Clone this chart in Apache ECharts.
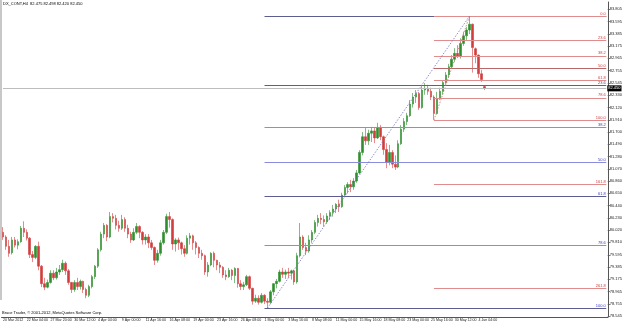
<!DOCTYPE html>
<html>
<head>
<meta charset="utf-8">
<script src="https://cdn.jsdelivr.net/npm/echarts@6/dist/echarts.min.js"></script>
<style>
  html, body { margin: 0; padding: 0; background: #fff; }
  #chart { width: 625px; height: 324px; }
</style>
</head>
<body>
<div id="chart"></div>
<script>
// DX_CONT H4 bars (each entry = one 3px column)
var opens = [79.98,79.90,79.74,79.63,79.85,79.76,79.82,80.05,79.98,79.88,79.60,79.55,79.74,79.40,79.10,79.04,79.12,79.28,79.20,79.30,
  79.34,79.45,79.32,79.12,79.00,79.12,79.05,79.14,79.00,78.90,79.05,79.22,79.40,79.68,79.95,80.10,79.90,80.25,80.22,80.10,
  80.05,80.20,80.05,79.95,79.85,79.98,80.08,79.98,79.85,79.90,79.80,79.72,79.50,79.62,79.80,79.98,80.25,80.20,79.78,79.85,
  79.80,79.70,79.62,79.88,79.92,79.80,79.72,79.62,79.58,79.30,79.42,79.62,79.50,79.42,79.38,79.25,79.22,79.33,79.24,79.36,
  79.10,79.05,79.08,79.22,79.02,78.80,78.85,78.78,78.90,78.80,78.78,78.96,79.10,79.14,79.30,79.26,79.30,79.28,79.32,79.13,
  79.58,79.90,79.72,79.66,79.85,79.98,80.15,80.22,80.20,80.16,80.26,80.32,80.38,80.46,80.42,80.62,80.75,80.80,80.76,80.86,
  81.00,81.35,81.62,81.55,81.68,81.72,81.60,81.78,81.62,81.40,81.18,81.35,81.15,81.10,81.50,81.75,81.88,81.98,82.18,82.30,
  82.36,82.12,82.42,82.45,82.40,82.30,82.02,82.28,82.40,82.55,82.68,82.82,82.95,83.05,83.00,83.22,83.35,83.45,83.55,83.13,
  83.02,82.70,82.48];
var closes = [79.90,79.74,79.62,79.85,79.76,79.82,80.05,79.98,79.88,79.60,79.55,79.74,79.40,79.10,79.04,79.12,79.28,79.20,79.30,79.34,
  79.45,79.32,79.12,79.00,79.12,79.05,79.14,79.00,78.90,79.05,79.22,79.40,79.68,79.95,80.10,79.90,80.25,80.22,80.10,80.05,
  80.20,80.05,79.95,79.85,79.98,80.08,79.98,79.85,79.90,79.80,79.72,79.50,79.62,79.80,79.98,80.25,80.20,79.78,79.85,79.80,
  79.70,79.62,79.88,79.92,79.80,79.72,79.62,79.58,79.30,79.42,79.62,79.50,79.42,79.38,79.25,79.22,79.33,79.24,79.36,79.10,
  79.05,79.08,79.22,79.02,78.80,78.85,78.78,78.90,78.80,78.78,78.96,79.10,79.14,79.30,79.26,79.30,79.28,79.32,79.13,79.58,
  79.90,79.72,79.66,79.85,79.98,80.15,80.22,80.20,80.16,80.26,80.32,80.38,80.46,80.42,80.62,80.75,80.80,80.76,80.86,81.00,
  81.35,81.62,81.55,81.68,81.72,81.60,81.78,81.62,81.40,81.18,81.35,81.15,81.10,81.50,81.75,81.88,81.98,82.18,82.30,82.36,
  82.12,82.42,82.45,82.40,82.30,82.02,82.28,82.40,82.55,82.68,82.82,82.95,83.05,83.00,83.22,83.35,83.45,83.55,83.15,83.02,
  82.70,82.60,82.45];
var lows = [79.85,79.68,79.56,79.60,79.72,79.69,79.80,79.90,79.84,79.54,79.47,79.52,79.33,79.04,78.99,79.02,79.10,79.16,79.17,79.25,
  79.30,79.25,79.08,78.94,78.96,78.99,79.00,78.94,78.85,78.87,79.02,79.18,79.37,79.65,79.88,79.83,79.88,80.15,80.03,79.99,
  80.02,79.99,79.88,79.80,79.83,79.95,79.88,79.77,79.77,79.71,79.68,79.42,79.46,79.58,79.77,79.95,80.06,79.68,79.65,79.68,
  79.60,79.56,79.60,79.77,79.68,79.60,79.54,79.51,79.25,79.22,79.40,79.38,79.33,79.28,79.20,79.16,79.20,79.16,79.11,79.03,
  78.99,78.99,79.06,78.99,78.74,78.77,78.74,78.76,78.75,78.68,78.75,78.90,79.02,79.12,79.20,79.18,79.20,79.17,79.08,79.10,
  79.55,79.68,79.59,79.63,79.80,79.95,80.08,80.12,80.08,80.13,80.19,80.25,80.31,80.33,80.40,80.58,80.65,80.67,80.71,80.83,
  80.98,81.30,81.48,81.48,81.53,81.51,81.58,81.56,81.31,81.08,81.13,81.08,81.05,81.08,81.48,81.70,81.82,81.96,82.12,82.20,
  82.08,82.10,82.34,82.34,82.25,81.91,82.00,82.25,82.34,82.51,82.63,82.80,82.90,82.97,82.96,83.18,83.28,83.38,82.72,82.88,
  82.63,82.56,82.42];
var highs = [80.07,79.93,79.85,79.90,79.90,79.86,80.09,80.17,80.03,79.90,79.66,79.76,79.82,79.42,79.20,79.17,79.33,79.33,79.37,79.42,
  79.51,79.48,79.35,79.13,79.16,79.20,79.17,79.15,79.03,79.08,79.25,79.42,79.71,79.99,80.14,80.12,80.33,80.31,80.28,80.18,
  80.28,80.24,80.11,79.99,80.05,80.14,80.10,80.00,79.95,79.95,79.85,79.74,79.68,79.85,80.02,80.30,80.33,80.22,79.88,79.89,
  79.82,79.76,79.93,79.97,79.94,79.83,79.74,79.68,79.60,79.47,79.64,79.65,79.51,79.47,79.40,79.33,79.37,79.35,79.38,79.37,
  79.16,79.13,79.25,79.24,79.03,78.91,78.90,78.94,78.92,78.85,78.99,79.11,79.18,79.34,79.37,79.34,79.37,79.34,79.34,79.63,
  80.14,79.93,79.80,79.93,80.02,80.19,80.28,80.31,80.27,80.31,80.36,80.45,80.48,80.54,80.66,80.79,80.84,80.88,80.91,81.05,
  81.39,81.70,81.77,81.74,81.79,81.77,81.86,81.82,81.64,81.51,81.48,81.39,81.30,81.56,81.82,81.94,82.03,82.25,82.37,82.42,
  82.39,82.51,82.54,82.51,82.46,82.33,82.39,82.46,82.59,82.73,82.87,83.02,83.14,83.19,83.31,83.42,83.50,83.69,83.56,83.15,
  83.03,82.77,82.49];

// one x label every 8 columns
var tickLabels = ['20 Mar 2012','22 Mar 04:00','27 Mar 20:00','30 Mar 12:00','4 Apr 04:00','9 Apr 00:00','11 Apr 16:00',
  '16 Apr 08:00','19 Apr 00:00','23 Apr 16:00','26 Apr 08:00','1 May 00:00','3 May 16:00','8 May 08:00','11 May 00:00',
  '15 May 16:00','18 May 08:00','23 May 00:00','25 May 16:00','30 May 12:00','4 Jun 04:00'];
var yTickVals = [78.545,78.755,78.965,79.175,79.385,79.595,79.810,80.020,80.230,80.440,80.650,80.860,81.070,81.280,
  81.490,81.700,81.910,82.120,82.330,82.545,82.755,82.965,83.175,83.385,83.595,83.805];

// fibonacci tools: [price, column] anchors
var blueFibLevels = [0, 23.6, 38.2, 50, 61.8, 78.6, 100];
var blueLow = [78.68, 89], blueHigh = [83.69, 157];
var redFibLevels = [0, 23.6, 38.2, 50, 61.8, 78.6, 100, 161.8, 261.8];
var redLow = [81.905, 145], redHigh = [83.69, 157];
var lastPrice = 82.45;

var nCols = 204;
var cats = [];
for (var i = 0; i < nCols; i++) cats.push(String(i));
var ohlc = opens.map(function (o, i) { return [o, closes[i], lows[i], highs[i]]; });

var font = 'Liberation Sans';
var fs = 4;
var lines = [];
function fmt(l) { return l.toFixed(1); }
blueFibLevels.forEach(function (l) {
  var p = blueHigh[0] - l / 100 * (blueHigh[0] - blueLow[0]);
  var dark = (l === 0 || l === 23.6 || l === 61.8 || l === 100);
  lines.push([
    { coord: ['88', p], lineStyle: { color: dark ? '#5d5d92' : '#8c8cdc', width: 1, type: 'solid' },
      label: { show: l !== 0, position: 'insideEndTop', formatter: fmt(l), color: '#3a3ac8', fontSize: fs,
        fontFamily: font, distance: 0.5 } },
    { coord: [String(nCols - 1), p] }
  ]);
});
redFibLevels.forEach(function (l) {
  var p = redHigh[0] - l / 100 * (redHigh[0] - redLow[0]);
  lines.push([
    { coord: [String(redLow[1]), p], lineStyle: { color: l === 50 ? '#b86868' : '#de8c8c', width: 1, type: 'solid' },
      label: { show: true, position: 'insideEndTop', formatter: fmt(l), color: '#d03a3a', fontSize: fs,
        fontFamily: font, distance: 0.5 } },
    { coord: [String(nCols - 1), p] }
  ]);
});
lines.push([
  { coord: [String(blueLow[1]), blueLow[0]], lineStyle: { color: '#6f6fc0', width: 0.8, type: [1.5, 1.5] }, label: { show: false } },
  { coord: [String(blueHigh[1]), blueHigh[0]] }
]);
lines.push([
  { coord: [String(redLow[1]), redLow[0]], lineStyle: { color: '#d07070', width: 0.8, type: [1.5, 1.5] }, label: { show: false } },
  { coord: [String(redHigh[1]), redHigh[0]] }
]);
lines.push([
  { coord: ['0', lastPrice], lineStyle: { color: '#bdbdbd', width: 1, type: 'solid' },
    label: { show: true, position: 'end', formatter: lastPrice.toFixed(3), color: '#fff', backgroundColor: '#000',
      fontSize: fs, fontFamily: font, padding: [1, 1, 1, 1], distance: 1 } },
  { coord: [String(nCols - 1), lastPrice] }
]);

function isTick(idx) { return idx % 8 === 0 && idx / 8 < tickLabels.length; }

var chart = echarts.init(document.getElementById('chart'));
var option = {
  animation: false,
  backgroundColor: '#fff',
  textStyle: { fontFamily: font },
  grid: { left: 0, right: 13, top: 2, bottom: 7 },
  xAxis: {
    type: 'category',
    data: cats,
    boundaryGap: true,
    axisLine: { lineStyle: { color: '#555', width: 1 } },
    axisTick: { length: 2, lineStyle: { color: '#555' }, interval: function (idx) { return isTick(idx); } },
    axisLabel: {
      interval: function (idx) { return isTick(idx); },
      showMinLabel: true,
      formatter: function (v, idx) { return tickLabels[idx / 8] || ''; },
      fontSize: 3.6, fontFamily: font, color: '#222', align: 'left', margin: 1
    },
    splitLine: { show: false }
  },
  yAxis: {
    type: 'value',
    position: 'right',
    min: 78.528,
    max: 83.931,
    axisLine: { show: true, lineStyle: { color: '#555', width: 1 } },
    axisTick: { show: true, length: 2, customValues: yTickVals, lineStyle: { color: '#555' } },
    axisLabel: { customValues: yTickVals, formatter: function (v) { return v.toFixed(3); },
      fontSize: fs, fontFamily: font, color: '#222', margin: 2 },
    splitLine: { show: false }
  },
  series: [{
    type: 'candlestick',
    data: ohlc,
    barWidth: 2,
    itemStyle: {
      color: '#2f8f2f', color0: '#d23c3c',
      borderColor: '#2f8f2f', borderColor0: '#d23c3c', borderWidth: 0.6
    },
    markLine: { symbol: ['none', 'none'], silent: true, animation: false, data: lines }
  }],
  graphic: [
    { type: 'rect', left: 0, top: 0, shape: { width: 2, height: 300 }, style: { fill: '#c8c8c8' } },
    { type: 'text', left: 3, top: 2, style: { text: 'DX_CONT,H4  82.475 82.498 82.420 82.450', fontSize: fs, fill: '#000', fontFamily: font } },
    { type: 'text', left: 2, top: 311, style: { text: 'Bruce Trader, \u00a9 2001-2012, MetaQuotes Software Corp.', fontSize: fs, fill: '#000', fontFamily: font } }
  ]
};
chart.setOption(option);
window.addEventListener('resize', function () { chart.resize(); });
</script>
</body>
</html>
